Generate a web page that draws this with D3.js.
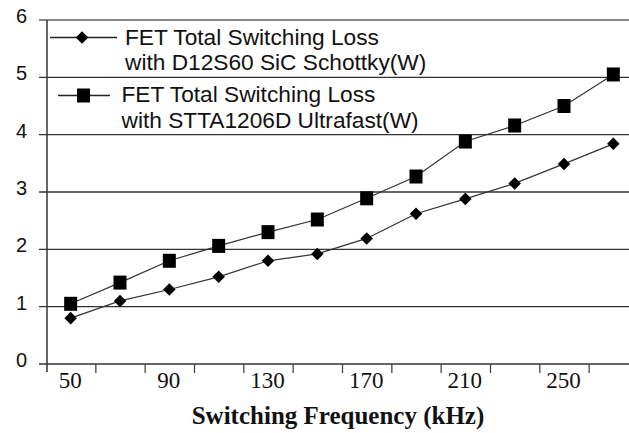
<!DOCTYPE html>
<html>
<head>
<meta charset="utf-8">
<script src="https://cdn.jsdelivr.net/npm/d3@7"></script>
<style>
  html, body { margin: 0; padding: 0; background: #fff; }
  svg { display: block; }
</style>
</head>
<body>
<script>
//------------------------------------------------------------------------------
//
// Data
//
//------------------------------------------------------------------------------

var frequencies = [50, 70, 90, 110, 130, 150, 170, 190, 210, 230, 250, 270];

var sicLoss = [0.80, 1.10, 1.30, 1.52, 1.80, 1.92, 2.19, 2.62, 2.88, 3.15, 3.49, 3.84];

var ultrafastLoss = [1.05, 1.42, 1.80, 2.06, 2.30, 2.52, 2.89, 3.27, 3.88, 4.16, 4.50, 5.05];

var yTicks = [0, 1, 2, 3, 4, 5, 6];

var xTickLabels = [50, 90, 130, 170, 210, 250];

var xBoundaries = [60, 80, 100, 120, 140, 160, 180, 200, 220, 240, 260];

var legendLines = [
  ["FET Total Switching Loss", "with D12S60 SiC Schottky(W)"],
  ["FET Total Switching Loss", "with STTA1206D Ultrafast(W)"]
];

//------------------------------------------------------------------------------
//
// Setup
//
//------------------------------------------------------------------------------

var w = 629, h = 433;

var svg = d3.select("body").append("svg")
  .attr("width", w)
  .attr("height", h);

var x = d3.scaleLinear().domain([40, 280]).range([46, 638]);
var y = d3.scaleLinear().domain([0, 6]).range([364, 20]);

var sans = "'Liberation Sans', Arial, sans-serif";
var serif = "'Liberation Serif', 'Times New Roman', serif";

//--------------------------------------
// Grid
//--------------------------------------

svg.append("g")
  .selectAll("line")
  .data(yTicks)
  .enter().append("line")
    .attr("x1", 39)
    .attr("x2", w)
    .attr("y1", function(d) { return y(d); })
    .attr("y2", function(d) { return y(d); })
    .attr("stroke", function(d) { return d == 6 ? "#8a8a8a" : "#333"; })
    .attr("stroke-width", function(d) { return d == 6 ? 2 : 1.3; });

// y axis line
svg.append("line")
  .attr("x1", 47).attr("x2", 47)
  .attr("y1", y(6)).attr("y2", 372)
  .attr("stroke", "#333")
  .attr("stroke-width", 1.5);

// y tick labels
svg.append("g")
  .selectAll("text")
  .data(yTicks)
  .enter().append("text")
    .attr("x", 27)
    .attr("y", function(d) { return y(d) + 3; })
    .attr("text-anchor", "end")
    .style("font-family", sans)
    .style("font-size", "20px")
    .attr("fill", "#111")
    .text(function(d) { return d; });

//--------------------------------------
// X axis
//--------------------------------------

var xAxisTicks = d3.axisBottom(x)
  .tickValues(xBoundaries)
  .tickSize(9)
  .tickFormat("");

svg.append("g")
  .attr("transform", "translate(0," + y(0) + ")")
  .call(xAxisTicks)
  .call(function(g) {
    g.select(".domain").remove();
    g.selectAll(".tick line").attr("stroke", "#444").attr("stroke-width", 1.3);
  });

var xAxisLabels = d3.axisBottom(x)
  .tickValues(xTickLabels)
  .tickSize(0)
  .tickPadding(8);

svg.append("g")
  .attr("transform", "translate(0," + y(0) + ")")
  .call(xAxisLabels)
  .call(function(g) {
    g.select(".domain").remove();
    g.selectAll(".tick text")
      .attr("dx", -1)
      .style("font-family", serif)
      .style("font-size", "23px")
      .attr("fill", "#111");
  });

svg.append("text")
  .attr("x", 338)
  .attr("y", 424)
  .attr("text-anchor", "middle")
  .style("font-family", serif)
  .style("font-size", "25px")
  .style("font-weight", "bold")
  .attr("fill", "#111")
  .text("Switching Frequency (kHz)");

//--------------------------------------
// Series
//--------------------------------------

var line = d3.line()
  .x(function(d) { return x(d[0]); })
  .y(function(d) { return y(d[1]); });

var diamond = d3.symbol().type(d3.symbolDiamond2).size(100);

var sicPoints = frequencies.map(function(f, i) { return [f, sicLoss[i]]; });
var ultraPoints = frequencies.map(function(f, i) { return [f, ultrafastLoss[i]]; });

[sicPoints, ultraPoints].forEach(function(pts) {
  svg.append("path")
    .attr("d", line(pts))
    .attr("fill", "none")
    .attr("stroke", "#333")
    .attr("stroke-width", 1.2);
});

svg.append("g")
  .selectAll("path")
  .data(sicPoints)
  .enter().append("path")
    .attr("transform", function(d) { return "translate(" + x(d[0]) + "," + y(d[1]) + ")"; })
    .attr("d", diamond)
    .attr("fill", "#000");

svg.append("g")
  .selectAll("rect")
  .data(ultraPoints)
  .enter().append("rect")
    .attr("x", function(d) { return x(d[0]) - 6.5; })
    .attr("y", function(d) { return y(d[1]) - 7; })
    .attr("width", 13)
    .attr("height", 14)
    .attr("fill", "#000");

//--------------------------------------
// Legend
//--------------------------------------

var legend = svg.append("g");

legend.append("line")
  .attr("x1", 50).attr("x2", 117)
  .attr("y1", 37.5).attr("y2", 37.5)
  .attr("stroke", "#222").attr("stroke-width", 1.3);

legend.append("path")
  .attr("transform", "translate(82,37.5)")
  .attr("d", diamond)
  .attr("fill", "#000");

legend.append("line")
  .attr("x1", 58).attr("x2", 110)
  .attr("y1", 95.5).attr("y2", 95.5)
  .attr("stroke", "#222").attr("stroke-width", 1.3);

legend.append("rect")
  .attr("x", 77).attr("y", 88.5)
  .attr("width", 13).attr("height", 14)
  .attr("fill", "#000");

var legendPos = [[125, 45, 70], [121.5, 102, 128]];

legendLines.forEach(function(lines, i) {
  lines.forEach(function(t, j) {
    legend.append("text")
      .attr("x", legendPos[i][0])
      .attr("y", legendPos[i][1 + j])
      .style("font-family", sans)
      .style("font-size", "22.7px")
      .attr("fill", "#111")
      .text(t);
  });
});
</script>
</body>
</html>
